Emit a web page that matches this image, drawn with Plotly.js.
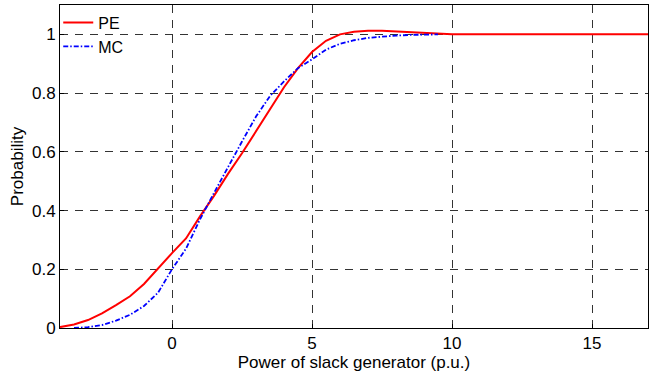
<!DOCTYPE html>
<html>
<head>
<meta charset="utf-8">
<script src="https://cdn.plot.ly/plotly-3.0.1.min.js"></script>
<style>
  html, body { margin: 0; padding: 0; background: #fff; }
  #chart { width: 652px; height: 372px; }
</style>
</head>
<body>
<div id="chart"></div>
<script>
// Cumulative distribution of the slack generator power
const peX = [-4, -3.5, -3, -2.5, -2, -1.5, -1, -0.5, 0, 0.5, 1, 1.5, 2, 2.5, 3, 3.5, 4, 4.5, 5, 5.5, 6, 6.5, 7, 7.5, 8, 8.5, 9, 9.5, 10, 11, 12, 13, 14, 15, 16, 17];
const peY = [0.003, 0.012, 0.027, 0.05, 0.078, 0.108, 0.15, 0.203, 0.255, 0.305, 0.38, 0.45, 0.525, 0.595, 0.67, 0.745, 0.82, 0.885, 0.94, 0.978, 1.0, 1.009, 1.012, 1.012, 1.01, 1.007, 1.004, 1.002, 1.0, 1.0, 1.0, 1.0, 1.0, 1.0, 1.0, 1.0];

const mcX = [-3.5, -3, -2.5, -2, -1.5, -1, -0.5, 0, 0.5, 1, 1.5, 2, 2.5, 3, 3.5, 4, 4.5, 5, 5.5, 6, 6.5, 7, 7.5, 8, 8.5, 9, 9.5];
const mcY = [0.0, 0.003, 0.01, 0.025, 0.045, 0.075, 0.12, 0.2, 0.27, 0.37, 0.46, 0.55, 0.635, 0.72, 0.79, 0.84, 0.885, 0.915, 0.948, 0.968, 0.98, 0.988, 0.993, 0.996, 0.998, 1.0, 1.0];

const xTicks = [0, 5, 10, 15];
const yTicks = [0, 0.2, 0.4, 0.6, 0.8, 1];
const yTickText = ['0', '0.2', '0.4', '0.6', '0.8', '1'];

const font = 'Arial, "Liberation Sans", sans-serif';

const traces = [
  { x: peX, y: peY, name: 'PE', mode: 'lines', line: { color: '#ff0000', width: 2 } },
  { x: mcX, y: mcY, name: 'MC', mode: 'lines', line: { color: '#0000ff', width: 1.8, dash: '5px,2px,1.5px,2px' } }
];

const axisCommon = {
  showline: true, mirror: true, linecolor: '#000', linewidth: 1,
  showgrid: true, gridcolor: '#333', gridwidth: 1, griddash: '8px,7px',
  zeroline: false, ticks: 'inside', ticklen: 4, tickcolor: '#000',
  tickfont: { family: font, size: 17, color: '#000' }
};

const layout = {
  width: 652, height: 372,
  margin: { l: 60, r: 4, t: 5, b: 44 },
  paper_bgcolor: '#fff', plot_bgcolor: '#fff',
  font: { family: font, color: '#000' },
  showlegend: true,
  legend: {
    x: -0.003, y: 0.998, xanchor: 'left', yanchor: 'top',
    bgcolor: 'rgba(0,0,0,0)', borderwidth: 0,
    font: { family: font, size: 16, color: '#000' },
    itemwidth: 30, tracegroupgap: 0
  },
  xaxis: Object.assign({}, axisCommon, {
    range: [-4, 17], tickvals: xTicks,
    title: { text: 'Power of slack generator (p.u.)', font: { family: font, size: 17, color: '#000' }, standoff: 2 }
  }),
  yaxis: Object.assign({}, axisCommon, {
    range: [0, 1.1], tickvals: yTicks, ticktext: yTickText,
    title: { text: 'Probability', font: { family: font, size: 17, color: '#000' }, standoff: 4 }
  })
};

Plotly.newPlot('chart', traces, layout, { staticPlot: true, displayModeBar: false });
</script>
</body>
</html>
